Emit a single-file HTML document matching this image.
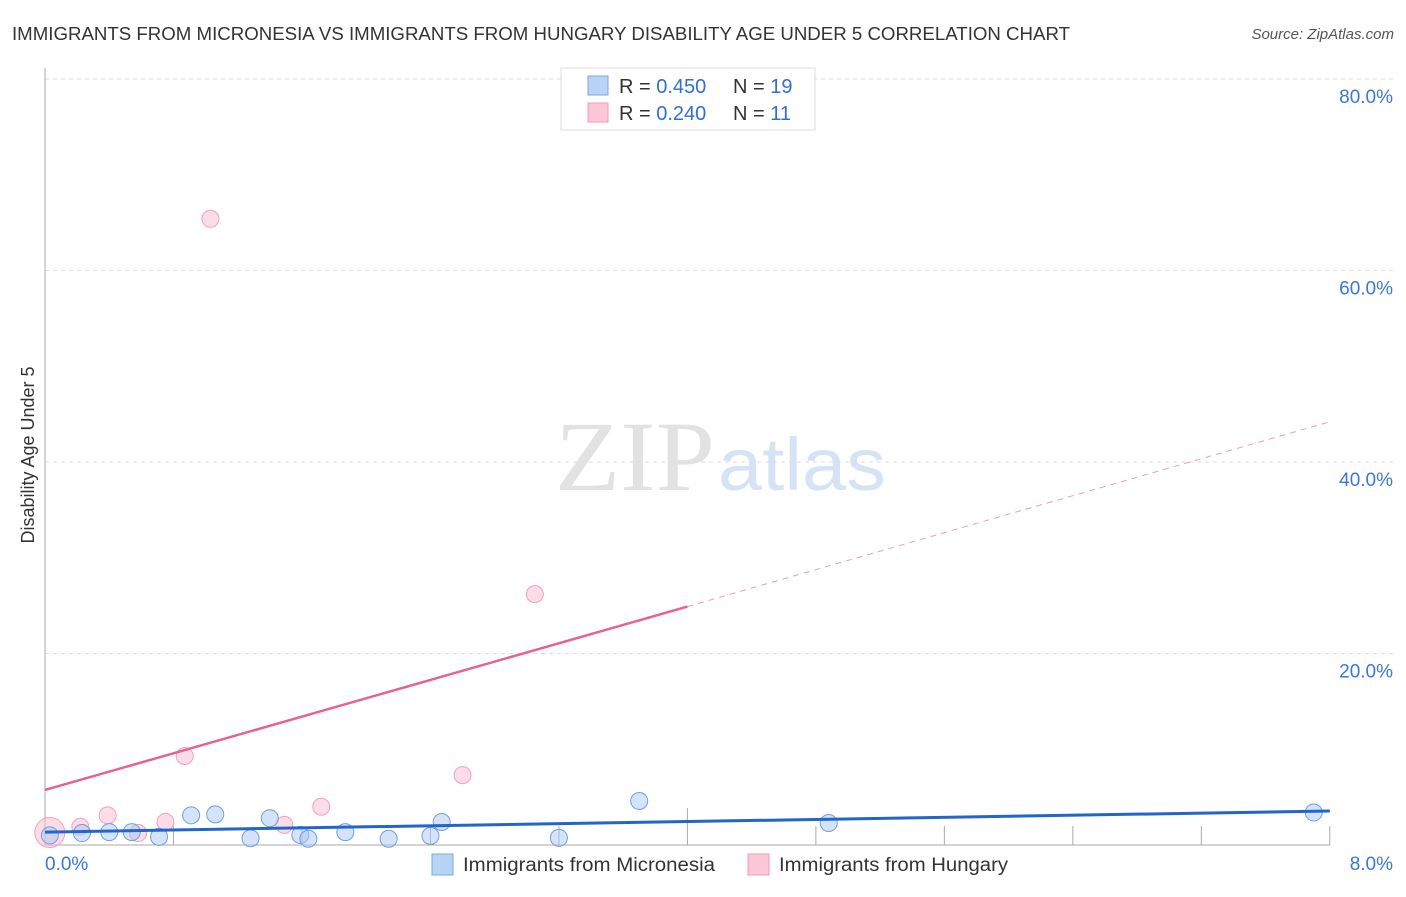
<!DOCTYPE html>
<html><head><meta charset="utf-8"><style>
body{margin:0;background:#fff;font-family:"Liberation Sans",sans-serif;}
</style></head><body>
<svg width="1406" height="892" xmlns="http://www.w3.org/2000/svg">
<text x="12" y="40" font-size="18" fill="#333" textLength="1058" lengthAdjust="spacingAndGlyphs">IMMIGRANTS FROM MICRONESIA VS IMMIGRANTS FROM HUNGARY DISABILITY AGE UNDER 5 CORRELATION CHART</text>
<text x="1394" y="39" font-size="15" fill="#555" font-style="italic" text-anchor="end">Source: ZipAtlas.com</text>
<text x="555" y="490" font-size="100" fill="#e2e2e2" textLength="160" lengthAdjust="spacingAndGlyphs" font-family="Liberation Serif,serif">ZIP</text>
<text x="718" y="490" font-size="74" fill="#d6e3f5" textLength="168" lengthAdjust="spacingAndGlyphs">atlas</text>
<text transform="translate(34,455) rotate(-90)" font-size="18" fill="#333" text-anchor="middle">Disability Age Under 5</text>
<g id="grid"></g><g id="marks"></g>
<g>
<rect x="561" y="68" width="254" height="62" fill="#fff" stroke="#ddd"/>
<rect x="588" y="76" width="20" height="19" fill="#b8d4f5" stroke="#7aa8e0"/>
<rect x="588" y="103" width="20" height="19" fill="#fcc8d8" stroke="#f29ab5"/>
<text x="619" y="93" font-size="20" fill="#333">R = <tspan fill="#2f6fd6">0.450</tspan></text>
<text x="733" y="93" font-size="20" fill="#333">N = <tspan fill="#2f6fd6">19</tspan></text>
<text x="619" y="120" font-size="20" fill="#333">R = <tspan fill="#2f6fd6">0.240</tspan></text>
<text x="733" y="120" font-size="20" fill="#333">N = <tspan fill="#2f6fd6"> 11</tspan></text>
</g>
<g>
<rect x="432" y="854" width="21" height="21" fill="#b8d4f5" stroke="#7aa8e0"/>
<text x="463" y="871" font-size="19" fill="#333" textLength="252" lengthAdjust="spacingAndGlyphs">Immigrants from Micronesia</text>
<rect x="748" y="854" width="21" height="21" fill="#fcc8d8" stroke="#f29ab5"/>
<text x="779" y="871" font-size="19" fill="#333" textLength="229" lengthAdjust="spacingAndGlyphs">Immigrants from Hungary</text>
</g>
</svg>
<script>
const yTicks=[20,40,60,80];
const xTickLabels=["0.0%","8.0%"];
const blueX=[0.03,0.23,0.40,0.54,0.71,0.91,1.06,1.28,1.40,1.59,1.64,1.87,2.14,2.40,2.47,3.20,3.70,4.88,7.90];
const blueY=[1.0,1.25,1.35,1.35,0.85,3.1,3.2,0.7,2.8,1.05,0.65,1.35,0.65,0.95,2.4,0.75,4.6,2.3,3.4];
const pinkX=[0.03,0.22,0.39,0.58,0.75,0.87,1.03,1.49,1.72,2.60,3.05];
const pinkY=[1.3,1.9,3.1,1.25,2.4,9.3,65.4,2.1,4.0,7.3,26.2];
const blueTrend=[[0,1.35],[8,3.55]];
const pinkTrend=[[0,5.75],[4,24.9],[8,44.2]];
const X=v=>45+v*160.6, Y=v=>845-v*9.575;
const NS="http://www.w3.org/2000/svg";
const g=document.getElementById('grid'), m=document.getElementById('marks');
function mk(tag,attrs,parent){const e=document.createElementNS(NS,tag);for(const k in attrs)e.setAttribute(k,attrs[k]);parent.appendChild(e);return e;}
yTicks.forEach(t=>{
 const l=mk('line',{x1:45,x2:1394,y1:Y(t),y2:Y(t),stroke:'#ddd','stroke-dasharray':'4,4'},g);
 
 
 const tx=mk('text',{x:1393,y:Y(t)+24,'font-size':19,fill:'#3a78d8','text-anchor':'end'},g);
 tx.textContent=t.toFixed(1)+'%';
 
 
});
mk('line',{x1:45,x2:45,y1:68,y2:845,stroke:'#aaa'},g);
mk('line',{x1:45,x2:1330,y1:845,y2:845,stroke:'#aaa'},g);
for(let i=1;i<=10;i++){const xv=i*0.8;
 const l=mk('line',{x1:X(xv),x2:X(xv),y1:i==5?808:826,y2:845,stroke:'#aaa'},g);
 
 }
[[0,45,'start'],[8,1393,'end']].forEach((a,i)=>{const t=mk('text',{x:a[1],y:870,'font-size':19,fill:'#3a78d8','text-anchor':a[2]},g);
 t.textContent=xTickLabels[i];
 
 });
pinkX.forEach((x,i)=>{const c=mk('circle',{cx:X(x),cy:Y(pinkY[i]),r:i==0?15:8.5,fill:'rgba(250,185,205,0.5)',stroke:'#f2a0bb'},m);
 
 });
blueX.forEach((x,i)=>{const c=mk('circle',{cx:X(x),cy:Y(blueY[i]),r:8.5,fill:'rgba(170,200,240,0.5)',stroke:'#6e9fe0'},m);
 
 });
let l=mk('line',{x1:X(pinkTrend[0][0]),y1:Y(pinkTrend[0][1]),x2:X(pinkTrend[1][0]),y2:Y(pinkTrend[1][1]),stroke:'#e8628e','stroke-width':2.5},m);


l=mk('line',{x1:X(pinkTrend[1][0]),y1:Y(pinkTrend[1][1]),x2:X(pinkTrend[2][0]),y2:Y(pinkTrend[2][1]),stroke:'#e8a0b8','stroke-width':1,'stroke-dasharray':'6,5'},m);


l=mk('line',{x1:X(blueTrend[0][0]),y1:Y(blueTrend[0][1]),x2:X(blueTrend[1][0]),y2:Y(blueTrend[1][1]),stroke:'#2266cc','stroke-width':3},m);


</script>
</body></html>
